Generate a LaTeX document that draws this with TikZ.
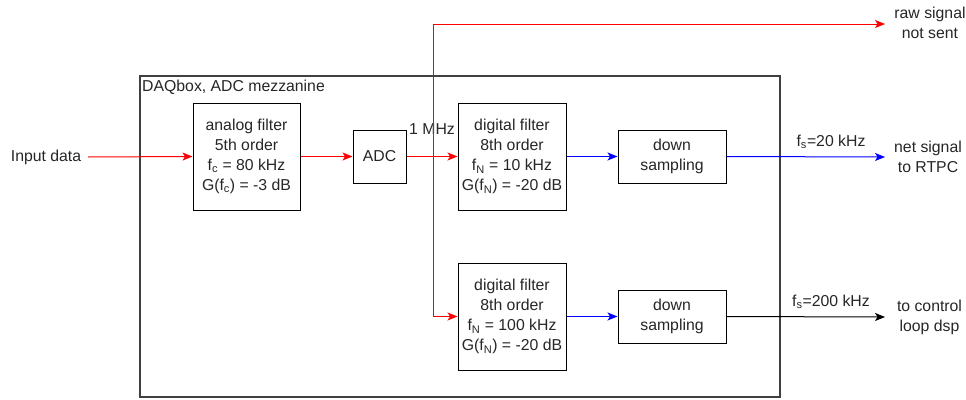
\documentclass[tikz,border=0pt]{standalone}
\usepackage{fontspec}
\setmainfont{Liberation Sans}
\usetikzlibrary{arrows.meta}
\definecolor{txt}{HTML}{262626}
\begin{document}
\begin{tikzpicture}[x=1pt,y=-1pt,
  every node/.style={font=\fontsize{15.8}{20}\selectfont, text=txt, align=center},
  blk/.style={draw=black, line width=1pt, inner sep=0pt},
  lbl/.style={inner sep=0pt},
  arr/.style={line width=1pt, -{Stealth[length=10pt,width=8pt,inset=2.5pt]}},
  ln/.style={line width=1pt}]
\useasboundingbox (0,0) rectangle (966,399);
\node[draw=black!75, line width=1.3pt, minimum width=640pt, minimum height=321pt, inner sep=0pt] (outer) at (460,236.5) {};
\node[lbl, anchor=north west] (daq) at (142,80) {DAQbox, ADC mezzanine};
\node[blk, minimum width=107pt, minimum height=107pt] (analog) at (246.5,156.5) {analog filter\\5th order\\f\textsubscript{c} = 80 kHz\\G(f\textsubscript{c}) = -3 dB};
\node[blk, minimum width=53pt, minimum height=53pt] (adc) at (379.5,156.5) {ADC};
\node[blk, minimum width=108pt, minimum height=107pt] (df1) at (512,156.5) {digital filter\\8th order\\f\textsubscript{N} = 10 kHz\\G(f\textsubscript{N}) = -20 dB};
\node[blk, minimum width=108pt, minimum height=53pt] (ds1) at (672,156.5) {down\\sampling};
\node[blk, minimum width=108pt, minimum height=107pt] (df2) at (512,316.5) {digital filter\\8th order\\f\textsubscript{N} = 100 kHz\\G(f\textsubscript{N}) = -20 dB};
\node[blk, minimum width=108pt, minimum height=53pt] (ds2) at (672,316.5) {down\\sampling};
\node[lbl] (input) at (46,157) {Input data};
\node[lbl] (raw) at (930,23) {raw signal\\not sent};
\node[lbl] (net) at (928,157) {net signal\\to RTPC};
\node[lbl] (ctl) at (929.5,317) {to control\\loop dsp};
\node[lbl] (mhz) at (432,129) {1 MHz};
\node[lbl] (fs1) at (831,142) {f\textsubscript{s}=20 kHz};
\node[lbl] (fs2) at (831,302) {f\textsubscript{s}=200 kHz};
\coordinate (inStart) at (88,157);
\coordinate (jn) at (433,157);
\coordinate (rawEnd) at (885,24);
\coordinate (netEnd) at (885,157);
\coordinate (ctlEnd) at (885,317);
\draw[arr, red] (inStart) -- (analog.west);
\draw[arr, red] (analog.east) -- (adc.west);
\draw[arr, red] (adc.east) -- (df1.west);
\draw[arr, red] (jn) |- (rawEnd);
\draw[arr, red] (jn) |- (df2.west);
\draw[arr, blue] (df1.east) -- (ds1.west);
\draw[arr, blue] (ds1.east) -- (netEnd);
\draw[arr, blue] (df2.east |- ds2.west) -- (ds2.west);
\draw[arr, black] (ds2.east) -- (ctlEnd);
\end{tikzpicture}
\end{document}
